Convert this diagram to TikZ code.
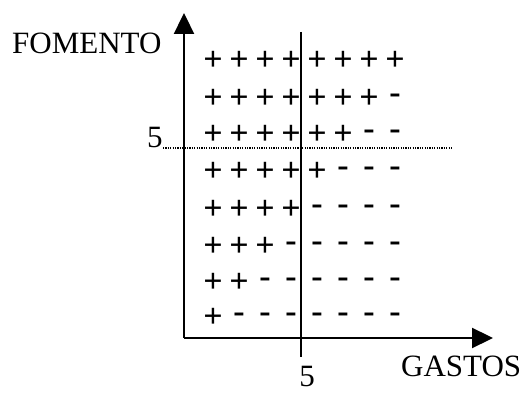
\documentclass[tikz,border=0pt]{standalone}
\usepackage{fontspec}
\setmainfont{Liberation Serif}
\usetikzlibrary{arrows.meta}
\begin{document}
\begin{tikzpicture}[x=1pt,y=-1pt,
  lbl/.style={font=\fontsize{31}{31}\selectfont, inner sep=0pt},
  sgn/.style={font=\fontsize{34}{34}\selectfont\bfseries, inner sep=0pt},
  axisline/.style={line width=2.3pt, -{Triangle[length=21pt,width=20pt]}},
  divline/.style={line width=2.4pt},
  refline/.style={line width=1.2pt, dash pattern=on 1.2pt off 1.2pt}]
\useasboundingbox (0,0) rectangle (523,395);
% axes
\coordinate (O) at (184,338);
\coordinate (Ytop) at (184,13);
\coordinate (Xend) at (493,338);
\draw[axisline] (O) -- (Ytop);
\draw[axisline] (O) -- (Xend);
% vertical divider
\coordinate (V1) at (301,32);
\coordinate (V2) at (301,357);
\draw[divline] (V1) -- (V2);
% dotted horizontal
\coordinate (D1) at (163,148);
\coordinate (D2) at (453,148);
\draw[refline] (D1) -- (D2);
% labels
\node[lbl, anchor=base west] (fom) at (12,54) {FOMENTO};
\node[lbl, anchor=base west] (five1) at (147,148) {5};
\node[lbl, anchor=base west] (gas) at (401,377) {GASTOS};
\node[lbl, anchor=base] (five2) at (307,387) {5};
% signs
\foreach \yy [count=\r from 0] in {61,99,135,172,210,247,283,318} {
  \foreach \c in {0,...,7} {
    \pgfmathtruncatemacro{\np}{8-\r}
    \pgfmathsetmacro{\xx}{213+26*\c}
    \ifnum\c<\np
      \node[sgn] (s-\r-\c) at (\xx,\yy) {+};
    \else
      \node[sgn] (s-\r-\c) at (\xx,\yy) {-};
    \fi
  }
}
\end{tikzpicture}
\end{document}
